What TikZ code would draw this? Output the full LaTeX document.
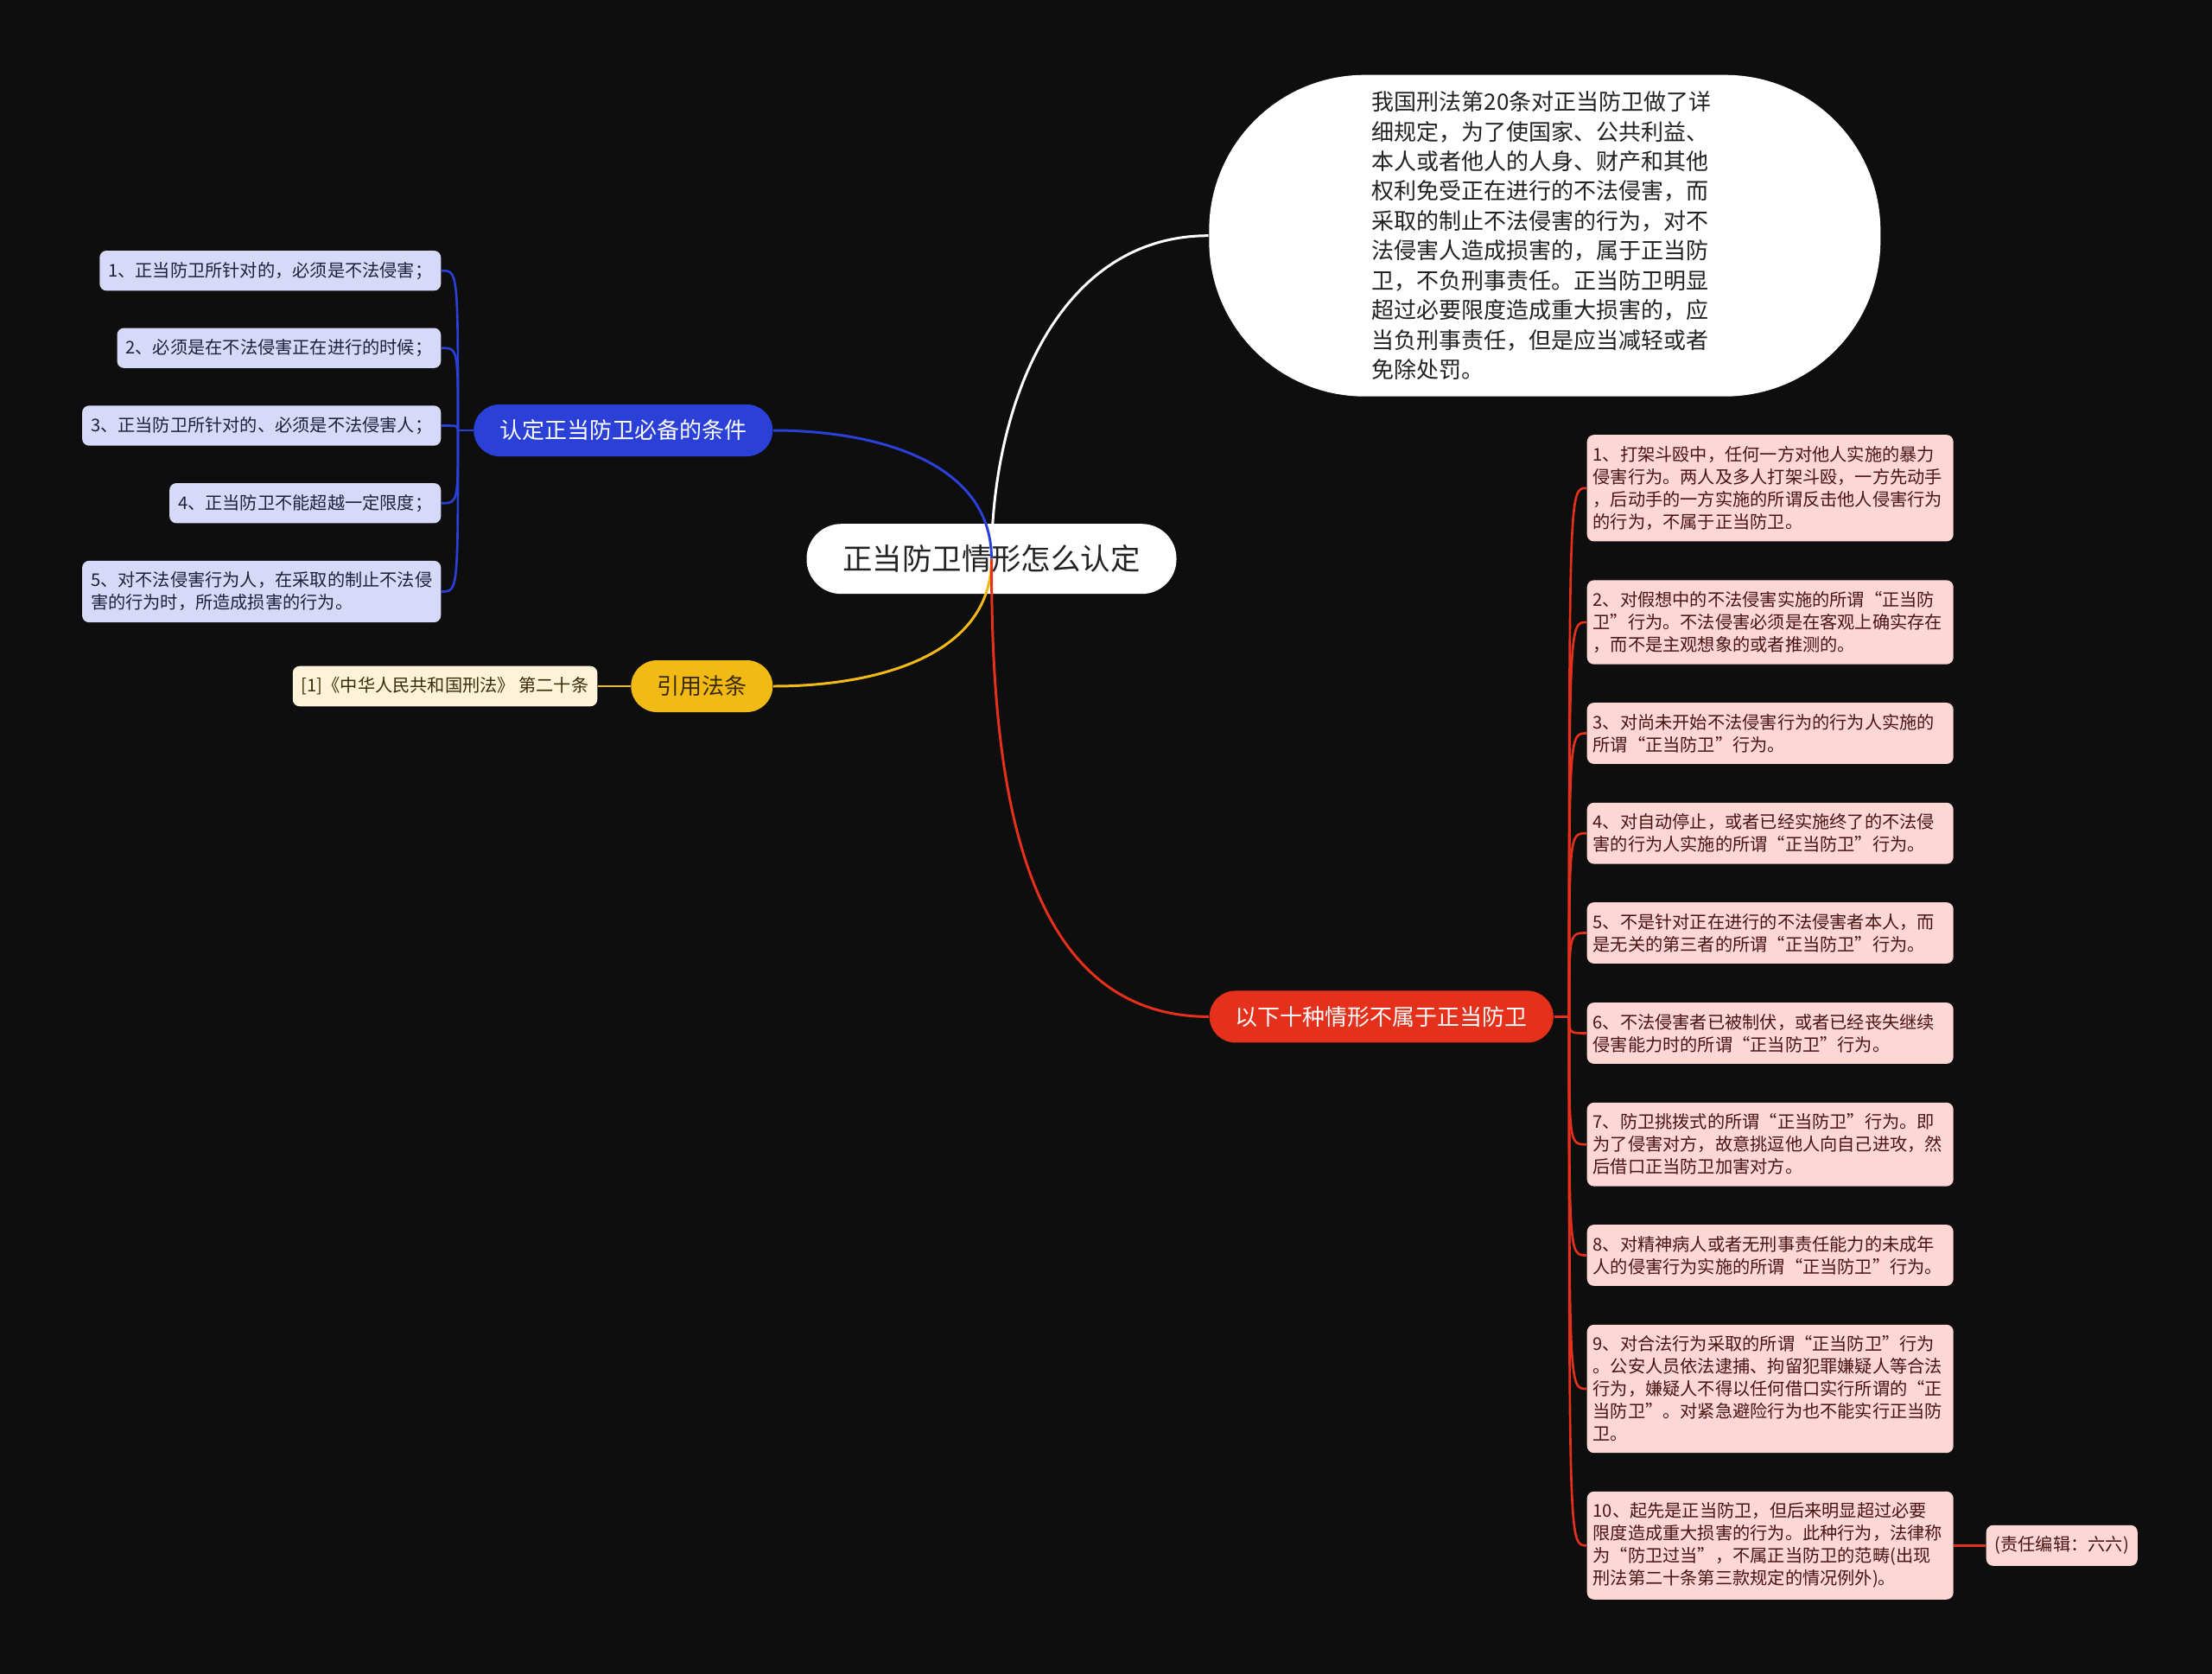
\documentclass[tikz,border=0pt]{standalone}
\usepackage{fontspec}
\setmainfont{Noto Sans CJK SC}
\definecolor{paper}{HTML}{0E0E0E}
\definecolor{inkdark}{HTML}{222222}
\definecolor{bluetopic}{HTML}{2B40D6}
\definecolor{bluepale}{HTML}{D6D9F7}
\definecolor{blueink}{HTML}{20203A}
\definecolor{goldtopic}{HTML}{F1BA15}
\definecolor{goldpale}{HTML}{FDF3D8}
\definecolor{goldink}{HTML}{3A2C08}
\definecolor{redtopic}{HTML}{E5301C}
\definecolor{redpale}{HTML}{FCD7D4}
\definecolor{redink}{HTML}{4A1414}

\begin{document}
\begin{tikzpicture}[
  root/.style={fill=white, text=inkdark, rounded corners=0.4cm, minimum width=4.28cm, minimum height=0.81cm, font=\fontsize{9.8pt}{11pt}\selectfont},
  memo/.style={fill=white, text=inkdark, rounded corners=1.8cm, minimum width=7.77cm, minimum height=3.72cm, text width=4.0cm, align=left, font=\fontsize{7.4pt}{9.8pt}\selectfont},
  topic/.style={rounded corners=0.3cm, minimum height=0.6cm, inner xsep=0.3cm, font=\fontsize{7.4pt}{9pt}\selectfont},
  leaf/.style={rounded corners=0.08cm, inner xsep=0.1cm, inner ysep=0.13cm, align=left, font=\fontsize{5.75pt}{7.4pt}\selectfont},
  redleaf/.style={leaf, fill=redpale, text=redink, text width=4.10cm, inner xsep=0.07cm, anchor=west},
  blueleaf/.style={leaf, fill=bluepale, text=blueink, anchor=east},
  wire/.style={line width=0.85pt},
  twig/.style={line width=0.75pt}
]
\fill[paper] (0,0) rectangle (25.6,-19.37);

% centre and the long note
\node[root] (root) at (11.475,-6.467) {正当防卫情形怎么认定};
\node[memo] (memo) at (17.878,-2.727) {我国刑法第20条对正当防卫做了详\\细规定，为了使国家、公共利益、\\本人或者他人的人身、财产和其他\\权利免受正在进行的不法侵害，而\\采取的制止不法侵害的行为，对不\\法侵害人造成损害的，属于正当防\\卫，不负刑事责任。正当防卫明显\\超过必要限度造成重大损害的，应\\当负刑事责任，但是应当减轻或者\\免除处罚。};

% left side
\node[topic, fill=bluetopic, text=white, anchor=east] (blu) at (8.95,-4.98) {认定正当防卫必备的条件};
\node[blueleaf] (b1) at (5.11,-3.132) {1、正当防卫所针对的，必须是不法侵害；};
\node[blueleaf] (b2) at (5.11,-4.027) {2、必须是在不法侵害正在进行的时候；};
\node[blueleaf] (b3) at (5.11,-4.925) {3、正当防卫所针对的、必须是不法侵害人；};
\node[blueleaf] (b4) at (5.11,-5.822) {4、正当防卫不能超越一定限度；};
\node[blueleaf] (b5) at (5.11,-6.845) {5、对不法侵害行为人，在采取的制止不法侵\\害的行为时，所造成损害的行为。};

\node[topic, fill=goldtopic, text=goldink, anchor=east] (gold) at (8.95,-7.94) {引用法条};
\node[leaf, fill=goldpale, text=goldink, anchor=east] (cite) at (6.92,-7.94) {[1]《中华人民共和国刑法》 第二十条};

% right side
\node[topic, fill=redtopic, text=white, anchor=west] (red) at (13.99,-11.764) {以下十种情形不属于正当防卫};
\node[redleaf] (r1) at (18.36,-5.648) {1、打架斗殴中，任何一方对他人实施的暴力\\侵害行为。两人及多人打架斗殴，一方先动手\\，后动手的一方实施的所谓反击他人侵害行为\\的行为，不属于正当防卫。};
\node[redleaf] (r2) at (18.36,-7.200) {2、对假想中的不法侵害实施的所谓“正当防\\卫”行为。不法侵害必须是在客观上确实存在\\，而不是主观想象的或者推测的。};
\node[redleaf] (r3) at (18.36,-8.485) {3、对尚未开始不法侵害行为的行为人实施的\\所谓“正当防卫”行为。};
\node[redleaf] (r4) at (18.36,-9.642) {4、对自动停止，或者已经实施终了的不法侵\\害的行为人实施的所谓“正当防卫”行为。};
\node[redleaf] (r5) at (18.36,-10.795) {5、不是针对正在进行的不法侵害者本人，而\\是无关的第三者的所谓“正当防卫”行为。};
\node[redleaf] (r6) at (18.36,-11.955) {6、不法侵害者已被制伏，或者已经丧失继续\\侵害能力时的所谓“正当防卫”行为。};
\node[redleaf] (r7) at (18.36,-13.242) {7、防卫挑拨式的所谓“正当防卫”行为。即\\为了侵害对方，故意挑逗他人向自己进攻，然\\后借口正当防卫加害对方。};
\node[redleaf] (r8) at (18.36,-14.525) {8、对精神病人或者无刑事责任能力的未成年\\人的侵害行为实施的所谓“正当防卫”行为。};
\node[redleaf] (r9) at (18.36,-16.070) {9、对合法行为采取的所谓“正当防卫”行为\\。公安人员依法逮捕、拘留犯罪嫌疑人等合法\\行为，嫌疑人不得以任何借口实行所谓的“正\\当防卫”。对紧急避险行为也不能实行正当防\\卫。};
\node[redleaf] (r10) at (18.36,-17.883) {10、起先是正当防卫，但后来明显超过必要\\限度造成重大损害的行为。此种行为，法律称\\为“防卫过当”，不属正当防卫的范畴(出现\\刑法第二十条第三款规定的情况例外)。};
\node[leaf, fill=redpale, text=redink, anchor=west] (edit) at (22.98,-17.883) {(责任编辑：六六)};

% connectors
\draw[wire, white] (root.center) to[out=90,in=180] (memo.west);
\draw[wire, bluetopic] (root.center) to[out=90,in=0] (blu.east);
\draw[wire, goldtopic] (root.center) to[out=-90,in=0] (gold.east);
\draw[wire, redtopic] (root.center) to[out=-90,in=180] (red.west);

\coordinate (bj) at (5.30,-4.98);
\draw[twig, bluetopic] (blu.west) -- (bj);
\foreach \i in {1,...,5}
  \draw[twig, bluetopic] (bj) .. controls (bj |- b\i.east) .. (b\i.east);

\draw[twig, goldtopic] (gold.west) -- (cite.east);

\coordinate (rj) at (18.16,-11.764);
\draw[twig, redtopic] (red.east) -- (rj);
\foreach \i in {1,...,10}
  \draw[twig, redtopic] (rj) .. controls (rj |- r\i.west) .. (r\i.west);
\draw[twig, redtopic] (r10.east) -- (edit.west);
\end{tikzpicture}
\end{document}
